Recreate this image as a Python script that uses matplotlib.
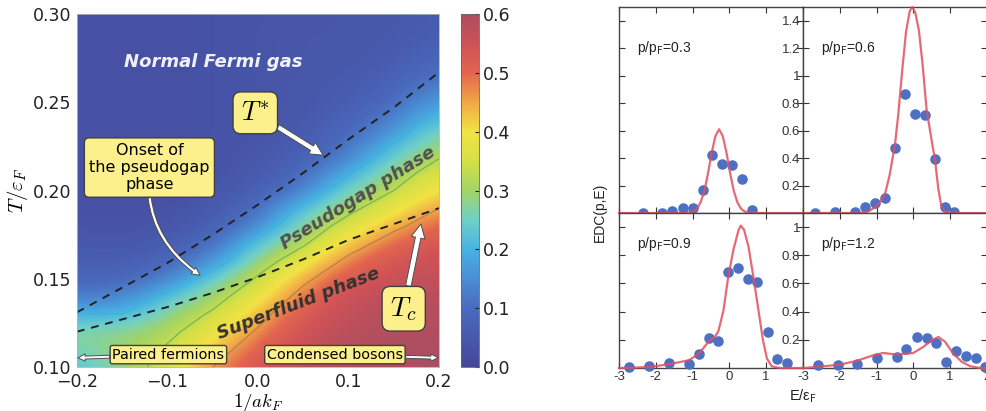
import numpy as np
import matplotlib
matplotlib.use('Agg')
import matplotlib.pyplot as plt
from matplotlib.colors import LinearSegmentedColormap

plt.rcParams['mathtext.fontset'] = 'cm'

# ---- phase diagram (left) ----
inv_akf = [-0.2, -0.15, -0.1, -0.05, 0.0, 0.05, 0.1, 0.15, 0.2]
temp = [0.10, 0.11, 0.12, 0.13, 0.14, 0.15, 0.16, 0.17, 0.18, 0.19, 0.20,
        0.21, 0.22, 0.23, 0.24, 0.25, 0.26, 0.27, 0.28, 0.29, 0.30]
# rows follow temp, columns follow inv_akf
gap = [
    [0.22, 0.28, 0.37, 0.46, 0.54, 0.58, 0.59, 0.60, 0.60],
    [0.26, 0.29, 0.34, 0.42, 0.51, 0.57, 0.59, 0.60, 0.60],
    [0.27, 0.28, 0.31, 0.38, 0.47, 0.55, 0.58, 0.59, 0.59],
    [0.20, 0.20, 0.28, 0.34, 0.43, 0.53, 0.57, 0.59, 0.59],
    [0.13, 0.13, 0.22, 0.30, 0.38, 0.49, 0.56, 0.58, 0.58],
    [0.09, 0.09, 0.13, 0.24, 0.34, 0.44, 0.53, 0.56, 0.57],
    [0.07, 0.06, 0.09, 0.15, 0.29, 0.38, 0.48, 0.54, 0.56],
    [0.05, 0.045, 0.06, 0.10, 0.23, 0.32, 0.42, 0.50, 0.54],
    [0.04, 0.035, 0.04, 0.07, 0.14, 0.28, 0.36, 0.44, 0.51],
    [0.03, 0.03, 0.03, 0.05, 0.10, 0.22, 0.31, 0.38, 0.46],
    [0.03, 0.03, 0.03, 0.04, 0.07, 0.13, 0.26, 0.33, 0.41],
    [0.03, 0.03, 0.03, 0.035, 0.05, 0.10, 0.19, 0.29, 0.37],
    [0.03, 0.03, 0.03, 0.035, 0.045, 0.07, 0.13, 0.24, 0.32],
    [0.03, 0.03, 0.03, 0.035, 0.04, 0.055, 0.10, 0.18, 0.28],
    [0.03, 0.03, 0.03, 0.035, 0.04, 0.05, 0.08, 0.13, 0.23],
    [0.03, 0.03, 0.03, 0.035, 0.04, 0.045, 0.065, 0.10, 0.18],
    [0.03, 0.03, 0.03, 0.035, 0.04, 0.045, 0.055, 0.08, 0.13],
    [0.03, 0.03, 0.03, 0.035, 0.04, 0.045, 0.05, 0.065, 0.10],
    [0.03, 0.03, 0.03, 0.035, 0.04, 0.045, 0.045, 0.055, 0.08],
    [0.03, 0.03, 0.03, 0.035, 0.04, 0.045, 0.045, 0.05, 0.065],
    [0.03, 0.03, 0.03, 0.035, 0.04, 0.04, 0.045, 0.05, 0.06],
]
tstar = [0.131, 0.145, 0.159, 0.175, 0.192, 0.210, 0.229, 0.247, 0.267]
tc = [0.120, 0.127, 0.134, 0.142, 0.151, 0.161, 0.172, 0.181, 0.190]

# ---- EDC panels (right) ----
labels = ['0.3', '0.6', '0.9', '1.2']

e03 = [-2.35, -1.82, -1.55, -1.27, -1.0, -0.73, -0.46, -0.19, 0.07, 0.34, 0.61]
d03 = [0.0, 0.0, 0.015, 0.04, 0.035, 0.165, 0.42, 0.36, 0.35, 0.25, 0.025]
fe03 = [-3.0, -1.2, -1.0, -0.88, -0.78, -0.68, -0.58, -0.48, -0.38, -0.28,
        -0.18, -0.08, 0.02, 0.12, 0.22, 0.32, 0.42, 0.55, 2.0]
fd03 = [0.0, 0.0, 0.01, 0.03, 0.08, 0.16, 0.29, 0.44, 0.56, 0.61,
        0.56, 0.44, 0.29, 0.16, 0.076, 0.03, 0.01, 0.0, 0.0]

e06 = [-2.67, -2.13, -1.59, -1.32, -1.05, -0.77, -0.5, -0.23, 0.05, 0.32, 0.59, 0.85, 1.1]
d06 = [0.0, 0.01, 0.01, 0.045, 0.07, 0.11, 0.47, 0.865, 0.72, 0.71, 0.39, 0.045, 0.01]
fe06 = [-3.0, -1.4, -1.2, -1.05, -0.9, -0.77, -0.65, -0.5, -0.41, -0.3, -0.2,
        -0.1, -0.03, 0.05, 0.15, 0.25, 0.36, 0.47, 0.59, 0.68, 0.76, 0.85, 1.0, 2.0]
fd06 = [0.0, 0.0, 0.015, 0.04, 0.08, 0.14, 0.27, 0.5, 0.72, 1.05, 1.32,
        1.47, 1.50, 1.46, 1.33, 1.08, 0.75, 0.57, 0.38, 0.17, 0.05, 0.01, 0.0, 0.0]

e09 = [-2.74, -2.19, -1.65, -1.1, -0.83, -0.56, -0.3, -0.03, 0.24, 0.5, 0.76, 1.04, 1.3, 1.56]
d09 = [0.007, 0.017, 0.033, 0.03, 0.10, 0.21, 0.19, 0.68, 0.71, 0.63, 0.61, 0.255, 0.067, 0.038]
fe09 = [-3.0, -2.16, -1.62, -1.1, -0.83, -0.56, -0.4, -0.3, -0.16, -0.03, 0.11,
        0.25, 0.31, 0.4, 0.52, 0.65, 0.79, 0.91, 1.02, 1.15, 1.38, 2.0]
fd09 = [0.0, 0.007, 0.028, 0.055, 0.1, 0.19, 0.22, 0.26, 0.41, 0.65, 0.84,
        0.98, 1.01, 0.98, 0.86, 0.65, 0.41, 0.2, 0.067, 0.012, 0.0, 0.0]

e12 = [-2.59, -2.05, -1.52, -0.99, -0.45, -0.19, 0.09, 0.36, 0.62, 0.89, 1.16, 1.44, 1.71, 1.95]
d12 = [0.02, 0.024, 0.03, 0.07, 0.076, 0.136, 0.22, 0.214, 0.176, 0.043, 0.12, 0.086, 0.071, 0.007]
fe12 = [-3.0, -2.45, -2.0, -1.55, -1.09, -0.82, -0.55, -0.27, 0.0, 0.27, 0.5,
        0.68, 0.86, 1.09, 1.32, 1.55, 1.82, 2.0]
fd12 = [0.0, 0.012, 0.024, 0.05, 0.09, 0.107, 0.098, 0.10, 0.107, 0.15, 0.198,
        0.22, 0.186, 0.10, 0.043, 0.012, 0.0, 0.0]

W, H = 986, 411
fig = plt.figure(figsize=(W / 100, H / 100), dpi=100)

# muted jet, as printed
cmap = LinearSegmentedColormap.from_list('mutedjet', [
    (0.0, '#45479a'), (0.167, '#4a6bbe'), (0.25, '#4a8ed4'),
    (0.333, '#48b2e2'), (0.417, '#6fd0c8'), (0.5, '#a2d466'),
    (0.583, '#d4e046'), (0.667, '#f2e244'), (0.75, '#f2a846'),
    (0.833, '#e2654f'), (0.917, '#cf5257'), (1.0, '#ac4e60')])

ax = fig.add_axes([77 / W, 1 - 367 / H, 362 / W, 353 / H])
im = ax.imshow(np.array(gap), origin='lower', aspect='auto', cmap=cmap,
               vmin=0, vmax=0.6, interpolation='bicubic',
               extent=[-0.225, 0.225, 0.095, 0.305])
ax.contour(inv_akf, temp, gap, levels=[0.2, 0.33, 0.46],
           colors=['#38b4d8', '#6fae52', '#a8804a'], linewidths=1, alpha=0.8)
ax.plot(inv_akf, tstar, '--', color='#222222', lw=1.4, dashes=(4, 3.5))
ax.plot(inv_akf, tc, '--', color='#222222', lw=1.4, dashes=(4, 3.5))
ax.set_xlim(-0.2, 0.2)
ax.set_ylim(0.10, 0.30)
ax.set_xticks([-0.2, -0.1, 0.0, 0.1, 0.2])
ax.set_yticks([0.10, 0.15, 0.20, 0.25, 0.30])
ax.tick_params(length=0, labelsize=12.5, pad=4, colors='#222222')
for s in ax.spines.values():
    s.set_color('0.7')
    s.set_linewidth(0.6)
ax.set_xlabel(r'$1/ak_F$', fontsize=13.5, labelpad=0)
ax.set_ylabel(r'$T/\varepsilon_F$', fontsize=15, labelpad=2)

ax.text(-0.05, 0.273, 'Normal Fermi gas', color='white', fontsize=13,
        fontweight='bold', style='italic', ha='center', va='center', alpha=0.92)
ax.text(0.11, 0.196, 'Pseudogap phase', color='#505050', fontsize=13,
        fontweight='bold', style='italic', ha='center', va='center', rotation=32)
ax.text(0.045, 0.136, 'Superfluid phase', color='#333333', fontsize=13,
        fontweight='bold', style='italic', ha='center', va='center', rotation=21)

box = dict(boxstyle='round,pad=0.3', fc='#fbf08c', ec='0.25', lw=1)
arrow = dict(arrowstyle='simple,head_length=0.5,head_width=0.5,tail_width=0.2',
             fc='white', ec='0.3', lw=0.7, shrinkA=0, shrinkB=0)
ax.annotate(r'$T^{*}$', xy=(0.072, 0.220), xytext=(-0.003, 0.244), fontsize=19,
            ha='center', va='center', bbox=box, arrowprops=arrow)
ax.annotate(r'$T_c$', xy=(0.180, 0.181), xytext=(0.161, 0.133), fontsize=20,
            ha='center', va='center', bbox=box, arrowprops=arrow)
ax.annotate('Onset of\nthe pseudogap\nphase', xy=(-0.064, 0.152),
            xytext=(-0.12, 0.213), fontsize=11.5, ha='center', va='center',
            bbox=box, arrowprops=dict(arrow, connectionstyle='arc3,rad=0.3'))
small = dict(boxstyle='round,pad=0.15', fc='#fbf08c', ec='0.25', lw=1)
ax.annotate('Paired fermions', xy=(-0.199, 0.1052), xytext=(-0.099, 0.107),
            fontsize=10.4, ha='center', va='center', bbox=small, arrowprops=arrow)
ax.annotate('Condensed bosons', xy=(0.199, 0.1052), xytext=(0.085, 0.107),
            fontsize=10.4, ha='center', va='center', bbox=small, arrowprops=arrow)

cax = fig.add_axes([461 / W, 1 - 367 / H, 17.5 / W, 353 / H])
cb = fig.colorbar(im, cax=cax, ticks=[0.0, 0.1, 0.2, 0.3, 0.4, 0.5, 0.6])
cb.ax.set_yticklabels(['0.0', '0.1', '0.2', '0.3', '0.4', '0.5', '0.6'])
cb.ax.tick_params(direction='in', length=3, labelsize=12.5, pad=3, colors='#222222')
cb.outline.set_edgecolor('0.4')
cb.outline.set_linewidth(0.6)

# EDC grid
x0, xm = 619, 803
pw = 184
top_rect = (7, 213)
bot_rect = (213, 368)
rects = [(x0, top_rect), (xm, top_rect), (x0, bot_rect), (xm, bot_rect)]
pts_e = [e03, e06, e09, e12]
pts_d = [d03, d06, d09, d12]
fit_e = [fe03, fe06, fe09, fe12]
fit_d = [fd03, fd06, fd09, fd12]
sans = 'Liberation Sans'
for i, (xl, (yt, yb)) in enumerate(rects):
    a = fig.add_axes([xl / W, 1 - yb / H, pw / W, (yb - yt) / H])
    a.plot(pts_e[i], pts_d[i], 'o', color='#4d6fc4', ms=7.6, mec='none',
           clip_on=False, zorder=3)
    a.plot(fit_e[i], fit_d[i], color='#e0505e', lw=1.6, alpha=0.85,
           zorder=4, clip_on=False)
    a.set_xlim(-3, 2)
    a.set_xticks([-3, -2, -1, 0, 1, 2])
    if i < 2:
        a.set_ylim(0, 1.5)
        yt_vals = [0.2, 0.4, 0.6, 0.8, 1.0, 1.2, 1.4]
        yt_labs = ['0.2', '0.4', '0.6', '0.8', '1', '1.2', '1.4']
    else:
        a.set_ylim(0, 1.1)
        yt_vals = [0.2, 0.4, 0.6, 0.8, 1.0]
        yt_labs = ['0.2', '0.4', '0.6', '0.8', '1']
    a.set_yticks(yt_vals)
    if i % 2 == 1:
        a.set_yticklabels(yt_labs, fontfamily=sans, fontsize=9.5)
    else:
        a.set_yticklabels([])
    if i == 2:
        a.set_xticklabels(['-3', '-2', '-1', '0', '1', ''], fontfamily=sans, fontsize=9.5)
    elif i == 3:
        a.set_xticklabels(['-3', '-2', '-1', '0', '1', '2'], fontfamily=sans, fontsize=9.5)
    else:
        a.set_xticklabels([])
    a.tick_params(direction='in', top=True, right=True, length=4, width=0.8,
                  colors='#333333', pad=2)
    for s in a.spines.values():
        s.set_color('#444444')
        s.set_linewidth(1)
    a.text(0.10, 0.80, 'p/p$_\\mathrm{F}$=' + labels[i], transform=a.transAxes,
           fontsize=10, family=sans, math_fontfamily='dejavusans', va='center',
           color='#222222')

fig.text(600 / W, 1 - 212 / H, 'EDC(p,E)', rotation=90, ha='center', va='center',
         fontsize=10, family=sans, color='#222222')
fig.text(803 / W, 1 - 396 / H, 'E/ε$_\\mathrm{F}$', ha='center', va='center',
         fontsize=10.5, family=sans, math_fontfamily='dejavusans', color='#222222')

fig.savefig('out.png', dpi=100)
